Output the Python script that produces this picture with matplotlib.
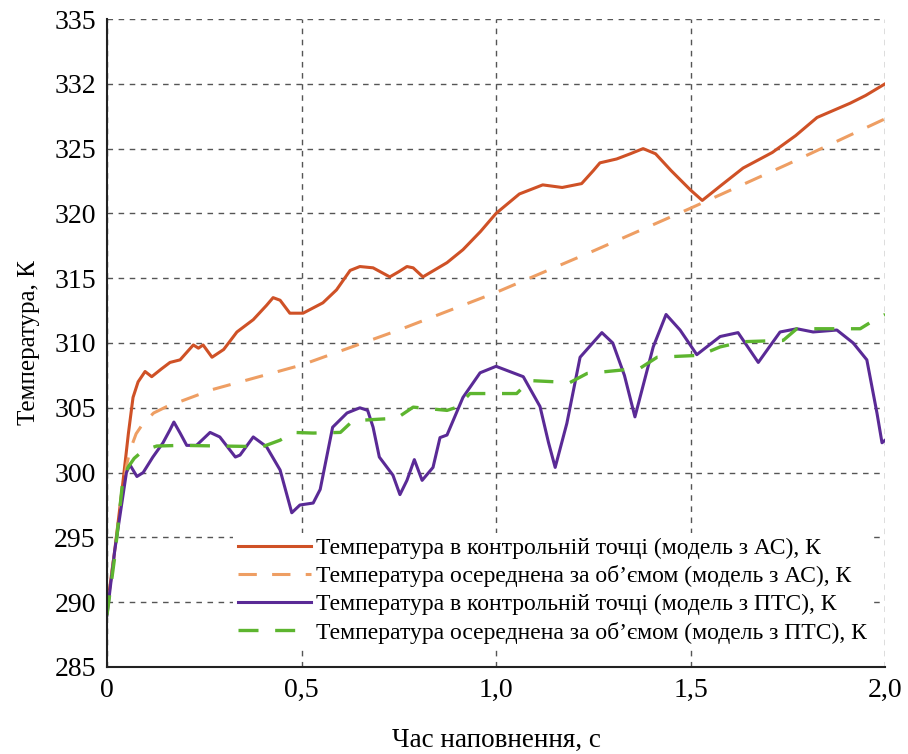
import matplotlib
matplotlib.use("Agg")
import matplotlib.pyplot as plt

plt.rcParams['font.family'] = ['Liberation Serif', 'DejaVu Serif']

# Температура в контрольній точці (модель з АС)
t_ac = [0, 0.02, 0.04, 0.055, 0.067, 0.08, 0.098, 0.115, 0.14, 0.162, 0.188, 0.222, 0.235, 0.247,
        0.27, 0.30, 0.334, 0.376, 0.41, 0.427, 0.445, 0.47, 0.504, 0.555, 0.59, 0.625, 0.65, 0.684,
        0.727, 0.75, 0.771, 0.787, 0.812, 0.874, 0.915, 0.96, 1.0, 1.06, 1.12, 1.17, 1.22, 1.25,
        1.267, 1.31, 1.345, 1.378, 1.41, 1.45, 1.5, 1.53, 1.58, 1.635, 1.71, 1.77, 1.825,
        1.91, 1.95, 2.0]
T_ac = [289.5, 294, 299, 303, 305.8, 307.0, 307.8, 307.4, 308.0, 308.5, 308.7, 309.85, 309.6, 309.85,
        308.9, 309.5, 310.85, 311.8, 312.9, 313.5, 313.3, 312.3, 312.3, 313.1, 314.1, 315.6, 315.9, 315.8,
        315.1, 315.5, 315.9, 315.8, 315.1, 316.2, 317.2, 318.6, 320.0, 321.5, 322.2, 322.0, 322.3, 323.3,
        323.9, 324.2, 324.6, 325.0, 324.6, 323.3, 321.8, 321.0, 322.2, 323.5, 324.7, 326.0, 327.4,
        328.5, 329.1, 330.0]

# Температура осереднена за об'ємом (модель з АС)
t_ac_avg = [0, 0.02, 0.04, 0.05, 0.059, 0.075, 0.093, 0.12, 0.154, 0.27, 0.5, 0.75, 1.0, 1.25,
            1.5, 1.75, 2.0]
T_ac_avg = [289.5, 294, 298.5, 300.5, 301.7, 303.0, 303.8, 304.6, 305.1, 306.4, 308.3, 311.0,
            313.9, 317.1, 320.4, 323.8, 327.3]

# Температура в контрольній точці (модель з ПТС)
t_pts = [0, 0.02, 0.04, 0.05, 0.059, 0.077, 0.093, 0.118, 0.144, 0.162, 0.172, 0.188, 0.205, 0.23,
         0.265, 0.29, 0.33, 0.342, 0.376, 0.41, 0.445, 0.475, 0.496, 0.53, 0.548, 0.58, 0.617,
         0.65, 0.67, 0.684, 0.70, 0.735, 0.753, 0.771, 0.79, 0.81, 0.838, 0.856, 0.874, 0.915,
         0.959, 1.0, 1.07, 1.113, 1.135, 1.152, 1.182, 1.216, 1.272, 1.30, 1.33, 1.357, 1.404, 1.437,
         1.473, 1.516, 1.576, 1.622, 1.674, 1.73, 1.773, 1.815, 1.876, 1.918, 1.953, 1.979, 1.992, 2.0]
T_pts = [289, 294, 298, 300, 300.6, 299.7, 300.0, 301.2, 302.3, 303.3, 303.9, 303.05, 302.1, 302.1,
         303.1, 302.75, 301.2, 301.35, 302.75, 302.0, 300.2, 296.9, 297.5, 297.65, 298.7, 303.5, 304.6,
         305.0, 304.8, 303.5, 301.2, 299.8, 298.3, 299.4, 301.0, 299.4, 300.4, 302.7, 302.9, 305.8,
         307.7, 308.2, 307.4, 305.1, 302.3, 300.4, 303.8, 308.9, 310.8, 310.0, 307.5, 304.3, 309.7, 312.2,
         311.0, 309.1, 310.5, 310.8, 308.5, 310.85, 311.1, 310.85, 311.0, 310.0, 308.7, 304.6, 302.3, 302.5]

# Температура осереднена за об'ємом (модель з ПТС)
t_pts_avg = [0, 0.02, 0.04, 0.054, 0.07, 0.093, 0.128, 0.19, 0.40, 0.445, 0.478, 0.53, 0.6, 0.632,
             0.745, 0.787, 0.874, 0.9, 0.933, 1.053, 1.087, 1.19, 1.234, 1.37, 1.414, 1.524, 1.576,
             1.635, 1.738, 1.773, 1.936, 1.979, 2.0]
T_pts_avg = [289, 293.5, 299.2, 300.4, 301.1, 301.7, 302.05, 302.1, 302.0, 302.5, 303.1, 303.05, 303.1,
             304.0, 304.2, 305.05, 304.8, 305.05, 306.1, 306.1, 307.1, 306.95, 307.65, 308.05, 308.9,
             309.05, 309.7, 310.1, 310.2, 311.1, 311.1, 311.9, 312.2]

y_ticks = [285, 290, 295, 300, 305, 310, 315, 320, 325, 330, 335]
y_labels = ['285', '290', '295', '300', '305', '310', '315', '320', '325', '332', '335']
x_ticks = [0, 0.5, 1.0, 1.5, 2.0]
x_labels = ['0', '0,5', '1,0', '1,5', '2,0']

fig = plt.figure(figsize=(9.08, 7.54), dpi=100)
ax = fig.add_axes([0.1178, 0.1154, 0.857, 0.8594])

ax.plot(t_ac, T_ac, color='#CF5126', lw=2.2, solid_joinstyle='round',
        label='Температура в контрольній точці (модель з АС), К')
ax.plot(t_ac_avg, T_ac_avg, color='#EE9E63', lw=2.2, dashes=(6, 5),
        label='Температура осереднена за об’ємом (модель з АС), К')
ax.plot(t_pts, T_pts, color='#5A2A96', lw=2.2, solid_joinstyle='round',
        label='Температура в контрольній точці (модель з ПТС), К')
ax.plot(t_pts_avg, T_pts_avg, color='#5DB52F', lw=2.4, dashes=(6, 5),
        label='Температура осереднена за об’ємом (модель з ПТС), К')

ax.set_xlim(0, 2.0)
ax.set_ylim(285, 335)
ax.set_yticks(y_ticks)
ax.set_yticklabels(y_labels)
ax.set_xticks(x_ticks)
ax.set_xticklabels(x_labels)
ax.tick_params(length=0, labelsize=20, pad=8)

ax.grid(True, color='#555555', lw=1.0, linestyle=(0, (4, 4)))
for s in ['top', 'right']:
    ax.spines[s].set_visible(False)
for s in ['left', 'bottom']:
    ax.spines[s].set_linewidth(1.5)
    ax.spines[s].set_color('#222222')

ax.set_xlabel('Час наповнення, с', fontsize=19.5, labelpad=18)
ax.set_ylabel('Температура, К', fontsize=18, labelpad=10)

leg = ax.legend(loc='upper left', bbox_to_anchor=(0.162, 0.207), fontsize=17,
                frameon=True, framealpha=1, edgecolor='none', fancybox=False,
                handlelength=3.1, handletextpad=0.2, labelspacing=0.27,
                borderpad=0.2, borderaxespad=0)
leg.get_frame().set_facecolor('white')

fig.savefig('out.png', dpi=100)
